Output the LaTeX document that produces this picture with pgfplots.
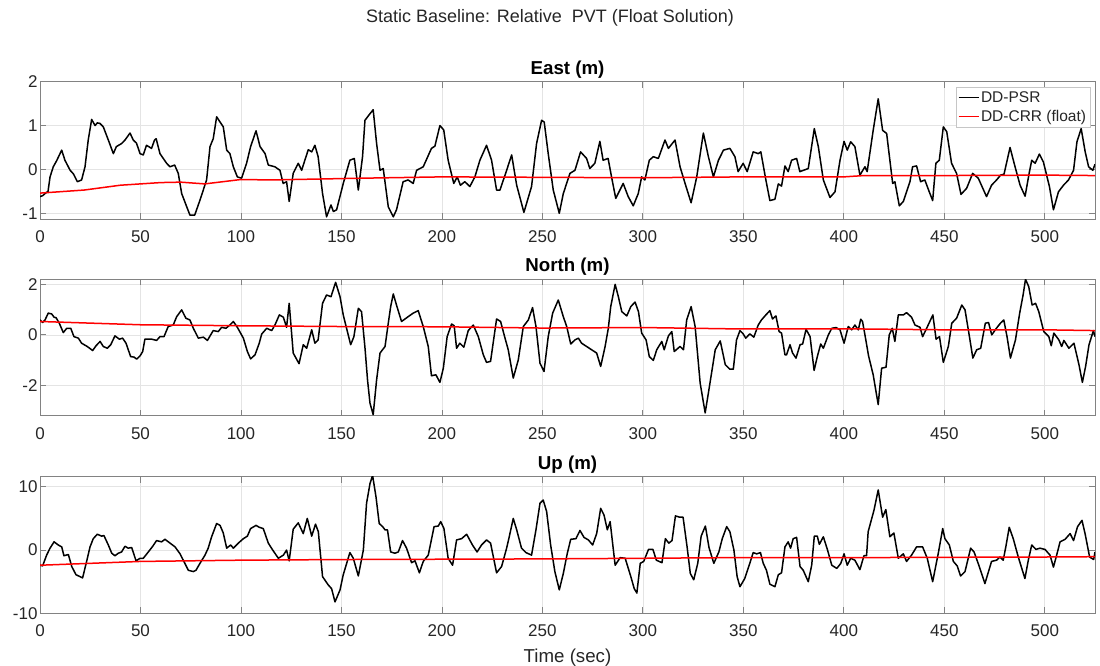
\documentclass[border=0pt]{standalone}
\usepackage{fontspec}
\setmainfont{Liberation Sans}
\usepackage{pgfplots}
\pgfplotsset{compat=1.18}
\definecolor{mlgrid}{RGB}{228,228,228}
\definecolor{mlaxis}{RGB}{130,130,130}
\definecolor{mltext}{RGB}{38,38,38}
\newcommand\ticksize{\fontsize{17}{20}\selectfont}
\newcommand\legsize{\fontsize{15.5}{18}\selectfont}
\newcommand\labsize{\fontsize{18.7}{22}\selectfont}

\pgfplotsset{
  mlstyle/.style={
    scale only axis, width=1055pt,
    xmin=0, xmax=525, xtick={0,50,...,500},
    grid=major, major grid style={mlgrid, line width=0.7pt},
    axis line style={mlaxis, line width=0.8pt},
    tick style={mlaxis, line width=0.8pt},
    tick align=inside, major tick length=6pt,
    ticklabel style={font=\ticksize, text=mltext},
    /pgf/number format/assume math mode=true,
    xticklabel style={yshift=-8pt},
    yticklabel style={xshift=1pt},
    title style={font=\labsize\bfseries, at={(0.5,1)}, anchor=south, yshift=-6pt},
    axis background/.style={fill=white},
  },
  psr/.style={black, line width=1.5pt, line join=round},
  crr/.style={red, line width=1.5pt},
}

\begin{document}
\begin{tikzpicture}[x=1pt,y=1pt]
\path[use as bounding box] (0,0) rectangle (1100,666);

\node[font=\fontsize{18}{21}\selectfont, text=mltext] at (550,648) {Static Baseline: Relative\ \ PVT (Float Solution)};

% ---------------- East
\begin{axis}[mlstyle, at={(40pt,447pt)}, anchor=south west, height=137.3pt,
    ymin=-1.13, ymax=2, ytick={-1,0,1,2},
    title={East (m)},
    legend style={at={(0.9955,0.96)}, anchor=north east, draw=mlgrid!70!gray,
      font=\legsize, text=mltext, inner sep=2pt, row sep=2.5pt, cells={anchor=west}},
    legend image code/.code={\draw[#1, line width=1pt] (0pt,0pt) -- (20pt,0pt);},
  ]
  \addplot[psr] coordinates {
(0,-0.62)(1.3,-0.6)(2.5,-0.55)(4,-0.5)(5,-0.17)(6.6,0.06)(8.3,0.2)(10.8,0.44)(12.4,0.21)(15,-0.02)(16.6,-0.1)(18.6,-0.28)(20.7,-0.24)(22.4,0.06)(24,0.67)(25.7,1.14)(27.4,1.0)(28.5,1.06)(29.8,1.05)(31.5,0.97)(34,0.67)(36.5,0.36)(38,0.52)(40.6,0.59)(42.3,0.67)(44.8,0.83)(46.4,0.67)(48,0.6)(49.8,0.36)(51.4,0.33)(53,0.55)(55.5,0.48)(57,0.67)(57.8,0.7)(59.7,0.36)(63,0.14)(64.7,0.06)(67,0.1)(68.8,-0.09)(70.5,-0.55)(73,-0.85)(74.6,-1.04)(77,-1.04)(79.6,-0.7)(82.9,-0.24)(84.6,0.52)(86.2,0.7)(87.9,1.2)(89.6,1.08)(91.2,0.97)(92.9,0.44)(94.5,0.36)(96.2,0.06)(98.2,-0.17)(100.3,-0.2)(102.8,0.14)(104.8,0.52)(107.5,0.88)(109.5,0.52)(112,0.36)(113.6,0.1)(116.9,0.06)(119.4,-0.02)(121,-0.32)(122.7,-0.28)(124,-0.73)(126,-0.09)(128.5,0.14)(130.2,-0.02)(131.8,0.21)(133.5,0.45)(135.2,0.4)(136.8,0.55)(138.4,0.29)(140.6,-0.55)(142.6,-1.08)(144.8,-0.81)(146,-0.96)(147.6,-0.92)(150.9,-0.32)(154.2,0.21)(156.4,0.25)(158.4,-0.47)(160.5,0.29)(161.7,1.12)(164.2,1.27)(165.8,1.36)(167.5,0.59)(169.2,-0.02)(170.8,0.02)(173.3,-0.85)(175.8,-1.08)(177.4,-0.92)(180.7,-0.28)(183.2,-0.24)(185.7,-0.32)(187.4,-0.02)(190.7,0.06)(194.8,0.48)(196.5,0.53)(199,1.0)(200.9,0.9)(203.1,0.21)(205.9,-0.32)(207.6,-0.17)(209.2,-0.36)(211.4,-0.28)(213.9,-0.39)(216.4,-0.17)(218.9,0.21)(222.2,0.55)(224.7,0.21)(227.2,-0.47)(228.9,-0.47)(232.2,-0.02)(234.7,0.33)(237.2,-0.36)(240.8,-0.98)(244.6,-0.39)(247.1,0.59)(249.6,1.12)(250.9,1.08)(252.9,0.36)(255.4,-0.47)(258.4,-1.0)(260.4,-0.55)(263.7,-0.09)(266.2,-0.02)(269,0.4)(272,0.25)(273.6,0.02)(276.1,0.14)(278.6,0.64)(280.2,0.21)(282.7,0.25)(284.4,-0.17)(286.5,-0.66)(290.2,-0.32)(292.7,-0.62)(295.2,-0.83)(297.7,-0.55)(299.4,-0.17)(301,-0.24)(303.2,0.21)(305.2,0.29)(307.7,0.25)(311,0.67)(312.7,0.48)(316,0.67)(318.5,0.06)(321,-0.32)(324,-0.76)(326.8,-0.17)(330.1,0.83)(332.6,0.29)(335.1,-0.17)(337.6,0.21)(340.1,0.44)(343.3,0.48)(345.8,0.29)(347.4,-0.05)(349.9,0.14)(351.9,-0.05)(354.9,0.4)(357.4,0.36)(358.7,0.4)(361.2,-0.24)(363.2,-0.71)(365.7,-0.68)(367.4,-0.33)(369,-0.38)(370.7,0.08)(372.3,-0.05)(374,0.21)(376.5,0.25)(378.1,-0.05)(382.3,0.02)(385.3,0.93)(387.3,0.52)(389.8,-0.24)(393.1,-0.64)(395.6,-0.51)(398.1,0.21)(400.1,0.64)(401.7,0.44)(403.4,0.63)(405.5,0.52)(408,-0.13)(410.5,0.06)(411.6,-0.05)(414.6,0.89)(417.1,1.61)(419.3,0.89)(421.3,0.82)(424.3,-0.32)(425.4,-0.28)(427.6,-0.83)(429.6,-0.73)(432.9,-0.28)(434.2,0.06)(436.2,0.08)(438.2,-0.28)(440.3,-0.24)(442.5,-0.51)(444.2,-0.71)(445.8,0.14)(447.5,0.21)(449.5,0.97)(451.2,0.86)(453.6,0.14)(456.1,-0.09)(458.3,-0.57)(461.1,-0.43)(464.1,-0.09)(466.9,-0.2)(471,-0.62)(473.5,-0.36)(476,-0.24)(478,-0.13)(479.7,-0.11)(482.7,0.5)(485.2,0.06)(487.7,-0.36)(490.2,-0.61)(492.2,-0.09)(493.5,0.21)(495.2,0.14)(497.3,0.35)(499.3,0.17)(502.3,-0.39)(504.3,-0.92)(506.8,-0.51)(509.3,-0.36)(511.8,-0.24)(514.3,-0.02)(516,0.63)(518.1,0.93)(520.1,0.4)(521.8,0.06)(523.9,-0.02)(525,0.12)
  };
  \addlegendentry{DD-PSR}
  \addplot[crr] coordinates {
(0,-0.54)(22,-0.47)(40,-0.36)(60,-0.3)(70,-0.29)(82,-0.33)(100,-0.23)(115,-0.24)(160,-0.2)(200,-0.17)(250,-0.18)(300,-0.19)(350,-0.17)(400,-0.17)(410,-0.14)(450,-0.14)(500,-0.13)(525,-0.14)
  };
  \addlegendentry{DD-CRR (float)}
\end{axis}

% ---------------- North
\begin{axis}[mlstyle, at={(40pt,250.3pt)}, anchor=south west, height=136.4pt,
    ymin=-3.2, ymax=2.2, ytick={-2,0,2},
    title={North (m)},
  ]
  \addplot[psr] coordinates {
(0,0.59)(1.3,0.49)(2.5,0.59)(4.1,0.86)(5.8,0.83)(7,0.7)(8,0.68)(9.6,0.46)(11.6,0.09)(13.3,0.26)(15.3,0.26)(16.9,-0.07)(19.1,-0.13)(20.7,-0.33)(23.5,-0.46)(26.2,-0.62)(27.9,-0.43)(29.9,-0.26)(31.5,-0.46)(33.5,-0.53)(35.2,-0.39)(37.3,-0.04)(39.5,-0.17)(41.1,-0.13)(42.8,-0.33)(45.1,-0.86)(46.8,-0.88)(48.1,-0.96)(49.8,-0.83)(51.1,-0.66)(52.2,-0.17)(55.6,-0.17)(58,-0.22)(59.7,-0.07)(61.7,-0.07)(63.8,0.33)(66.3,0.39)(68,0.72)(70.5,0.99)(72.6,0.66)(74.6,0.59)(76.3,0.26)(78.8,-0.13)(81.3,-0.09)(83.3,-0.22)(86.2,0.17)(88.7,0.13)(90.4,0.3)(92.5,0.26)(94.5,0.39)(96.2,0.53)(98.2,0.3)(101.2,-0.13)(103.2,-0.66)(104.8,-0.95)(107,-0.79)(109.1,-0.33)(110.3,0.03)(112.8,0.26)(115.3,0.17)(116.9,0.39)(119.1,0.79)(121.1,0.7)(122.7,0.3)(124,1.25)(126,-0.72)(128.9,-1.14)(131,-0.39)(132.7,-0.53)(135.2,0.2)(136.8,-0.33)(138.4,-0.2)(140.6,1.25)(142.6,1.58)(144.8,1.51)(147.1,2.08)(149.3,1.51)(150.9,0.79)(154.6,-0.39)(156.2,-0.07)(158.4,1.05)(160,0.92)(161.7,-0.5)(163,-1.8)(164.2,-2.7)(165.8,-3.16)(167.5,-1.78)(169.2,-0.72)(171.7,-0.46)(173.3,0.46)(174.5,1.12)(175.8,1.62)(177.4,1.18)(179.9,0.53)(183.2,0.72)(185.7,0.86)(188.2,0.96)(190.7,0.33)(193.2,-0.46)(194.8,-1.62)(197,-1.58)(199,-1.88)(200.7,-1.32)(202.6,-0.07)(204.8,0.43)(206.1,0.36)(207.3,-0.53)(208.9,-0.33)(210.9,-0.49)(213.1,0.17)(215.6,0.39)(218.1,-0.07)(220.6,-0.79)(222.2,-1.09)(224.2,-1.05)(227.2,0.63)(229.2,0.53)(231.4,-0.13)(233,-0.59)(235.5,-1.71)(238,-0.99)(240.5,0.33)(243,0.59)(245.1,1.08)(246.8,0.33)(248.8,-1.12)(250.8,-1.45)(252.9,-0.07)(255.1,0.86)(257.9,1.38)(260.4,0.72)(262.1,0.33)(264.1,-0.36)(266.2,-0.2)(267.9,-0.13)(269.5,-0.33)(272,-0.46)(274.5,-0.59)(277,-0.72)(279,-1.25)(281.2,-0.46)(282.8,0.26)(284,1.12)(286.2,2.0)(287.8,1.51)(289.5,0.92)(292,0.75)(294,1.12)(296.1,1.3)(297.8,0.92)(299.4,0.07)(301.6,-0.2)(303.2,-0.86)(305.2,-1.01)(306.9,-0.59)(309.4,-0.26)(310.6,-0.59)(312.7,-0.04)(314.4,0.13)(315.6,-0.66)(318.5,-0.46)(320.2,-0.59)(321.8,0.59)(324,1.12)(326,0.33)(328.5,-1.91)(331,-3.09)(332.6,-2.3)(334.3,-1.45)(336,-0.59)(338.5,-0.24)(341,-1.18)(343.3,-1.36)(345,-1.36)(346.6,-0.2)(348.3,0.17)(349.9,0.04)(351.2,-0.13)(353.2,0.04)(355.2,-0.09)(357.4,0.39)(359,0.59)(361.2,0.79)(363.2,0.96)(364.5,0.63)(366.2,0.75)(367.8,0.13)(369,0.07)(370.7,-0.79)(371.5,-0.79)(373.2,-0.39)(374.5,-0.72)(376.2,-0.92)(378.2,-0.39)(379.5,-0.36)(381.2,0.22)(383.2,-0.07)(385.2,-1.41)(386.8,-0.86)(388.5,-0.36)(389.8,-0.53)(392.3,0.0)(394,0.26)(396.1,0.29)(398.1,0.2)(400.1,-0.33)(402.2,0.33)(403.9,0.2)(405.5,0.39)(407.2,0.2)(408.4,0.62)(409.3,0.53)(410.5,0)(412.3,-0.83)(414.6,-1.58)(417.1,-2.76)(418.8,-1.32)(421,-1.28)(422.6,0)(424.1,0.26)(425.4,-0.26)(427.1,0.79)(429.6,0.79)(431.2,0.88)(433.7,0.7)(435.4,0.39)(437.9,0.3)(439.2,-0.07)(441.2,0.26)(444.3,0.79)(445.9,-0.17)(447.6,-0.07)(449.5,-1.09)(452,-0.46)(453.7,0.46)(456.1,0.66)(458.7,1.18)(460.3,0.99)(462.5,-0.07)(464.2,-0.92)(466.1,-0.59)(468.1,-0.53)(470.4,0.46)(472,0.49)(473.6,0)(475.9,0.26)(477.9,0.46)(479.6,0.59)(481.2,-0.07)(482.9,-0.92)(485.4,-0.2)(487.5,0.86)(489.2,1.58)(490.4,2.2)(492,1.91)(493.7,1.18)(495.4,1.25)(497,0.92)(499.5,0.13)(502,-0.07)(503.2,-0.43)(504.5,0.07)(507,-0.2)(508.4,-0.46)(509.5,-0.22)(512,-0.53)(514.5,-0.33)(517,-1.18)(518.7,-1.88)(520.3,-1.25)(522,-0.39)(524.2,0.17)(525,-0.07)
  };
  \addplot[crr] coordinates {
(0,0.53)(50,0.4)(100,0.36)(150,0.33)(200,0.32)(250,0.27)(300,0.29)(343,0.24)(400,0.24)(450,0.2)(500,0.2)(525,0.17)
  };
\end{axis}

% ---------------- Up
\begin{axis}[mlstyle, at={(40pt,52.7pt)}, anchor=south west, height=136.6pt,
    ymin=-10, ymax=11.6, ytick={-10,0,10},
    title={Up (m)},
    xlabel={Time (sec)},
    xlabel style={font=\labsize, text=mltext, yshift=-5pt},
  ]
  \addplot[psr] coordinates {
(0,-2.4)(1.3,-2.5)(3.3,-0.8)(5,0.3)(7,1.3)(9.1,0.8)(10.8,0.5)(11.9,-0.9)(14.1,-0.7)(15.8,-2.6)(17.9,-3.9)(19.9,-4.2)(21.2,-4.4)(23.2,-1.8)(24.9,0.5)(26.5,1.8)(28.5,2.5)(30.7,2.2)(31.8,2.3)(34,0.8)(35.7,-0.5)(37.3,-0.9)(39,-0.5)(40.6,-0.3)(42.3,0.6)(43.9,0.3)(45.6,0.4)(47.8,-1.7)(49.8,-1.3)(51.4,-1.3)(53.9,-0.3)(56.1,0.6)(58,1.5)(60.5,1.3)(62.2,1.7)(64.7,1.1)(67.2,0.5)(69.7,-0.6)(71.6,-1.8)(73.8,-3.2)(76.3,-3.4)(77.6,-3.2)(79.6,-2.1)(82.1,-0.8)(83.7,0.3)(85.4,2.1)(87.9,4.2)(89.6,3.9)(91.2,2.7)(92.9,0.3)(94.9,0.8)(96.2,0.3)(98.7,1.1)(101.2,1.8)(103.2,2.2)(104.8,3.4)(107.5,3.9)(109.1,3.6)(111.1,3.4)(113.6,1.1)(115.8,0)(118.6,-1.3)(121.1,-0.8)(122.7,0)(124,-1.7)(126,3.3)(128.5,4.3)(131,2.6)(133,5.0)(135.2,2.2)(137.1,4.1)(138.5,2.9)(140.6,-4.2)(143.4,-5.5)(145.1,-6.1)(146.8,-8.2)(149.3,-6.3)(150.9,-3.9)(152.6,-2.1)(154.2,-0.4)(155.9,-1.3)(158.4,-4.1)(160.9,0)(162.5,7.4)(164.2,10.5)(165.5,11.8)(167.2,8.4)(168.8,4.2)(170.5,3.7)(171.7,3.2)(172.9,3.2)(174.5,-0.3)(176.6,-0.5)(178.3,-0.3)(180.4,1.5)(182.4,0.3)(184.9,-2.0)(186.6,-1.7)(188.8,-3.6)(190.7,-1.8)(193.2,-0.8)(196.1,3.7)(198.2,3.8)(199.4,4.5)(201,3.4)(203.1,-1.3)(205.3,-2.4)(207.3,1.6)(209.8,1.8)(212.3,2.5)(215.2,0.8)(217.5,-0.3)(219.7,0.8)(222.2,1.6)(224.2,1.1)(227.2,-3.6)(229.7,-2.6)(232.2,0.3)(233.5,2.1)(235.5,5.0)(237.2,3.2)(239.6,0.3)(241.8,-0.4)(244.6,-0.8)(246.8,3.2)(248.8,7.4)(250.4,7.9)(252.1,6.1)(254.1,0.8)(256.2,-3.4)(258.4,-6.3)(260.4,-3.7)(262.4,-0.5)(264.1,1.7)(266.7,1.8)(268.7,3.1)(270.7,2.0)(272.9,1.6)(275,0.8)(277,2.6)(279,6.6)(280.7,5.5)(282.3,3.2)(283.7,4.5)(286.2,-2.4)(288.7,-1.2)(291.2,-1.3)(294,-4.2)(295.7,-6.1)(297,-6.8)(298.7,-2.1)(300.4,-1.8)(302.8,0.1)(305,0.1)(306.7,-1.6)(309.5,-2.0)(311.2,1.8)(312.9,1.1)(314.5,1.5)(316.2,5.4)(318.3,5.2)(320,5.2)(322,0.5)(323.6,-3.7)(325.3,-4.7)(327.3,-2.1)(329,2.2)(331.1,3.8)(332.9,0.4)(335.3,-2.1)(337.8,-0.3)(339.5,1.8)(341.7,3.7)(343.3,2.9)(345.3,0)(346.9,-4.2)(348.3,-5.8)(350.7,-4.5)(353.2,-2.1)(354.9,-0.4)(356.6,-0.6)(358.5,-0.4)(359.9,-2.1)(361.5,-3.2)(363.2,-5.4)(365.7,-5.8)(367.4,-3.9)(369,-3.6)(370.7,0.5)(372.3,1.3)(373.5,0.3)(374.8,1.8)(376.5,2.0)(378.2,-2.6)(379.8,-3.2)(382.3,-5.0)(384,-2.4)(385.3,2.2)(386.8,2.2)(387.8,0.9)(389.8,2.1)(391.8,0.1)(394,-2.4)(396.5,-2.9)(398.5,-2.1)(400.1,-0.6)(401.7,-2.4)(403.4,-1.3)(405.5,-1.6)(408,-3.1)(410,-0.9)(411.3,-0.9)(412.1,2.9)(415,6.3)(417.1,9.5)(419.3,5.2)(420.9,6.4)(422.9,2.1)(424.9,2.7)(427.1,-1.3)(429.6,-0.6)(431.2,-1.8)(433.7,-0.8)(436.2,0.5)(439.2,0.5)(441.5,-1.3)(444.2,-5.0)(447,-0.5)(449.2,3.4)(450.3,1.8)(452.5,0.8)(454.5,-1.8)(456.4,-2.5)(458.1,-4.1)(460.3,-3.4)(463.1,0.3)(464.8,-0.3)(467.4,-2.6)(470.2,-5.3)(473.5,-1.8)(476,-1.6)(477.7,-1.1)(479.3,-1.6)(480.6,0.5)(482.3,3.6)(484.3,1.8)(486.8,-1.1)(490.1,-4.5)(491.8,-1.6)(493.5,0.8)(495.6,0.1)(497.6,0.3)(500.1,0.1)(502.6,-0.8)(504.3,-2.7)(505.9,-0.8)(507.6,1.3)(510.1,1.7)(512.6,2.6)(514.3,1.5)(516.3,3.7)(518.5,4.7)(520.1,2.5)(522.3,-1.1)(524.3,-1.5)(525,-0.3)
  };
  \addplot[crr] coordinates {
(0,-2.4)(50,-1.8)(100,-1.6)(150,-1.5)(200,-1.45)(250,-1.4)(300,-1.3)(343,-1.2)(400,-1.2)(450,-1.15)(500,-1.1)(525,-1.05)
  };
\end{axis}
\end{tikzpicture}
\end{document}
